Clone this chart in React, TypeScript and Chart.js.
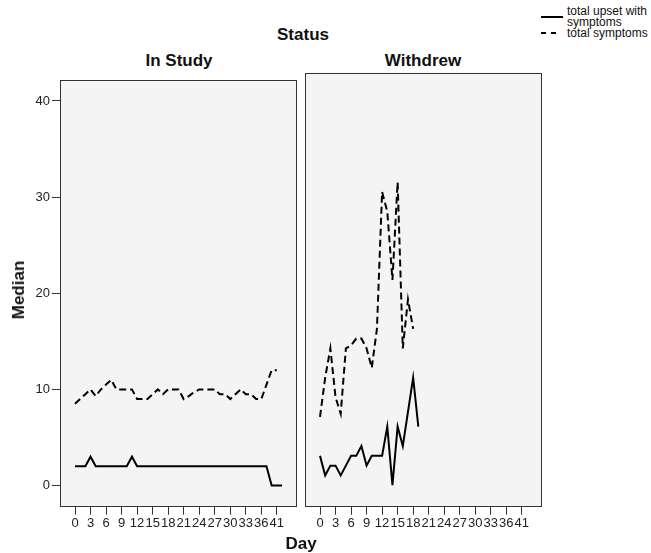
import React, { useEffect, useRef } from "react";
import { Chart, registerables } from "chart.js";
Chart.register(...registerables);

// Category days (index position -> day label)
const days = [0, 1, 2, 3, 4, 5, 6, 7, 8, 9, 10, 11, 12, 13, 14, 15, 16, 17, 18, 19, 20, 21, 22, 23, 24, 25, 26, 27, 28, 29, 30, 31, 32, 33, 34, 35, 36, 38, 40, 41, 43];
const tickIndices = [0, 3, 6, 9, 12, 15, 18, 21, 24, 27, 30, 33, 36, 39];
const yTicks = [0, 10, 20, 30, 40];

const inStudyUpset = [2, 2, 2, 3, 2, 2, 2, 2, 2, 2, 2, 3, 2, 2, 2, 2, 2, 2, 2, 2, 2, 2, 2, 2, 2, 2, 2, 2, 2, 2, 2, 2, 2, 2, 2, 2, 2, 2, 0, 0, 0];
const inStudySymptoms = [8.5, 9, 9.5, 10, 9.3, 10, 10.5, 11, 10, 10, 10, 10, 9, 9, 9, 9.5, 10, 9.5, 10, 10, 10, 9, 9.3, 9.7, 10, 10, 10, 10, 9.5, 9.5, 9, 9.5, 10, 9.5, 9.5, 9, 9, 10.5, 12, 12, null];
const withdrewUpset = [3, 1, 2, 2, 1, 2, 3, 3, 4, 2, 3, 3, 3, 6, 0, 6, 4, 7.5, 11, 6];
const withdrewSymptoms = [7, 11, 14, 9, 7.3, 14, 14.3, 15, 15, 14, 12, 16, 30, 28, 21, 31, 14, 19, 16, null];

const FONT = "Arial, 'Liberation Sans', sans-serif";

const panelPlugin = {
  id: "panel",
  beforeDraw(chart: any) {
    const { ctx, chartArea: a } = chart;
    ctx.save();
    ctx.fillStyle = "#f4f4f4";
    ctx.fillRect(a.left, a.top, a.right - a.left, a.bottom - a.top);
    ctx.restore();
  },
  afterDraw(chart: any) {
    const { ctx, chartArea: a } = chart;
    ctx.save();
    ctx.strokeStyle = "#333";
    ctx.lineWidth = 1;
    ctx.strokeRect(Math.round(a.left) + 0.5, Math.round(a.top) + 0.5, Math.round(a.right - a.left) - 1, Math.round(a.bottom - a.top) - 1);
    ctx.restore();
  },
};

function toPoints(arr: (number | null)[]) {
  return arr.map((v, i) => ({ x: i, y: v }));
}

function makeChart(canvas: HTMLCanvasElement, upset: (number | null)[], symptoms: (number | null)[], showY: boolean, yWidth: number, padding: any) {
  return new Chart(canvas, {
    type: "line",
    data: {
      datasets: [
        { label: "total upset with symptoms", data: toPoints(upset) as any, borderColor: "#000", borderWidth: 2, pointRadius: 0, fill: false, tension: 0 },
        { label: "total symptoms", data: toPoints(symptoms) as any, borderColor: "#000", borderWidth: 2, borderDash: [7, 4], pointRadius: 0, fill: false, tension: 0 },
      ],
    },
    options: {
      responsive: false,
      maintainAspectRatio: false,
      animation: false,
      layout: { padding },
      plugins: { legend: { display: false }, tooltip: { enabled: false }, title: { display: false } },
      scales: {
        x: {
          type: "linear",
          min: -2.9,
          max: 42.9,
          border: { display: false },
          grid: { display: true, drawOnChartArea: false, drawTicks: true, tickLength: 8, color: "#333" },
          ticks: {
            autoSkip: false,
            maxRotation: 0,
            minRotation: 0,
            padding: 1,
            color: "#222",
            font: { family: FONT, size: 13 },
            callback: (v: any) => String(days[v as number]),
          },
          afterBuildTicks: (scale: any) => {
            scale.ticks = tickIndices.map((v) => ({ value: v }));
          },
          afterFit: (scale: any) => {
            scale.height = 46.3;
          },
        },
        y: {
          type: "linear",
          min: -2.2,
          max: 42.2,
          border: { display: false },
          grid: { display: showY, drawOnChartArea: false, drawTicks: showY, tickLength: 8, color: "#333" },
          ticks: {
            display: showY,
            padding: 2,
            color: "#222",
            font: { family: FONT, size: 13 },
          },
          afterBuildTicks: (scale: any) => {
            scale.ticks = yTicks.map((v) => ({ value: v }));
          },
          afterFit: (scale: any) => {
            scale.width = yWidth;
          },
        },
      },
    },
    plugins: [panelPlugin],
  } as any);
}

export default function App() {
  const leftRef = useRef<HTMLCanvasElement>(null);
  const rightRef = useRef<HTMLCanvasElement>(null);

  useEffect(() => {
    const c1 = makeChart(leftRef.current!, inStudyUpset, inStudySymptoms, true, 60, { left: 0, top: 2.7, right: 3, bottom: 0 });
    const c2 = makeChart(rightRef.current!, withdrewUpset, withdrewSymptoms, false, 5, { left: 0, top: 2.7, right: 109, bottom: 0 });
    return () => {
      c1.destroy();
      c2.destroy();
    };
  }, []);

  const bold: React.CSSProperties = { position: "absolute", fontFamily: FONT, fontWeight: "bold", fontSize: 17, color: "#111", whiteSpace: "nowrap", lineHeight: "18px" };
  const small: React.CSSProperties = { position: "absolute", fontFamily: FONT, fontSize: 12, color: "#111", whiteSpace: "nowrap", lineHeight: "11px" };

  return (
    <div style={{ position: "absolute", left: 0, top: 0, width: 651, height: 553, overflow: "hidden", background: "#fff" }}>
      <canvas ref={leftRef} width={300} height={483} style={{ position: "absolute", left: 0, top: 70, width: 300, height: 483 }} />
      <canvas ref={rightRef} width={351} height={483} style={{ position: "absolute", left: 300, top: 70, width: 351, height: 483 }} />

      <div style={{ ...bold, left: 303, top: 26, transform: "translateX(-50%)" }}>Status</div>
      <div style={{ ...bold, left: 179, top: 52, transform: "translateX(-50%)" }}>In Study</div>
      <div style={{ ...bold, left: 423, top: 52, transform: "translateX(-50%)" }}>Withdrew</div>
      <div style={{ ...bold, left: 301, top: 535, transform: "translateX(-50%)" }}>Day</div>
      <div style={{ ...bold, left: 19, top: 290, transform: "translate(-50%, -50%) rotate(-90deg)" }}>Median</div>

      <div style={{ position: "absolute", left: 541, top: 16, width: 22, height: 2, background: "#000" }} />
      <div style={{ ...small, left: 567, top: 6 }}>total upset with</div>
      <div style={{ ...small, left: 567, top: 17 }}>symptoms</div>
      <div style={{ position: "absolute", left: 541, top: 32, width: 5, height: 2, background: "#000" }} />
      <div style={{ position: "absolute", left: 551, top: 32, width: 5, height: 2, background: "#000" }} />
      <div style={{ ...small, left: 567, top: 28 }}>total symptoms</div>
    </div>
  );
}
